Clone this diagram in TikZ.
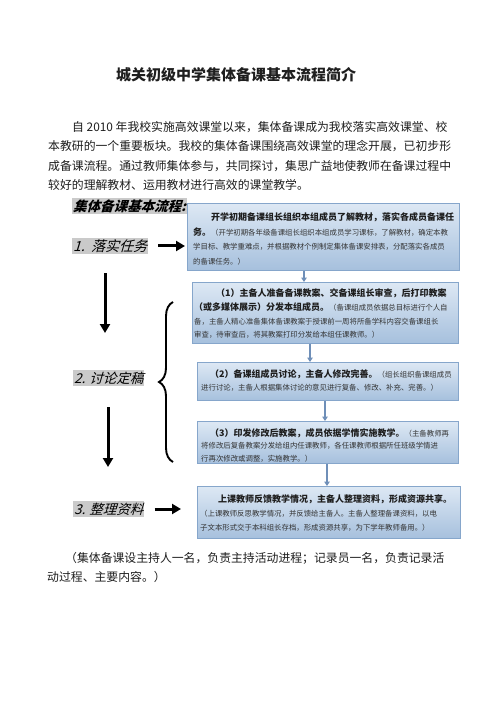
\documentclass[tikz,border=0pt]{standalone}
\usepackage{fontspec}
\setmainfont{Noto Sans CJK SC}
\newfontfamily\cjkit{Noto Sans CJK SC}[FakeSlant=0.3]
\usetikzlibrary{arrows.meta,decorations.pathreplacing}
\definecolor{boxtop}{HTML}{DDE8F4}
\definecolor{boxbot}{HTML}{A6C0DD}
\definecolor{boxline}{HTML}{86A6CB}
\definecolor{smallarr}{HTML}{6F8FB8}
\definecolor{hl}{HTML}{CACACA}
\definecolor{txt}{HTML}{1E1E1E}
\definecolor{txtsmall}{HTML}{333333}
\newcommand{\bt}[1]{{\fontsize{9}{9}\selectfont\bfseries #1}}
\newcommand{\st}[1]{{\fontsize{7.4}{7.4}\selectfont\color{txtsmall}#1}}
\tikzset{
  flowbox/.style={draw=boxline, line width=0.8pt, top color=boxtop, bottom color=boxbot, anchor=north west, inner sep=0pt},
  ln/.style={anchor=west, inner sep=0pt, text=txt},
  para/.style={anchor=west, inner sep=0pt, text=txt, font=\fontsize{11.85}{11.85}\selectfont},
  lab/.style={anchor=west, fill=hl, inner xsep=1pt, inner ysep=1.5pt, text=black, font=\cjkit\fontsize{13.5}{13.5}\selectfont},
  bigarrow/.style={line width=3pt, -{Triangle[width=10pt,length=9pt]}},
  smallarrow/.style={line width=1.3pt, draw=smallarr, -{Triangle[width=5.5pt,length=4.5pt]}},
}
\begin{document}
\begin{tikzpicture}[x=1pt,y=-1pt]
\useasboundingbox (0,0) rectangle (500,708);
\fill[white] (0,0) rectangle (500,708);
% title
\node[inner sep=0pt, text=txt, font=\fontsize{15}{15}\selectfont\bfseries] (title) at (236,75) {城关初级中学集体备课基本流程简介};
% intro paragraph
\node[para] (p1) at (72,127) {自 2010 年我校实施高效课堂以来，集体备课成为我校落实高效课堂、校};
\node[para] (p2) at (48,146) {本教研的一个重要板块。我校的集体备课围绕高效课堂的理念开展，已初步形};
\node[para] (p3) at (48,166) {成备课流程。通过教师集体参与，共同探讨，集思广益地使教师在备课过程中};
\node[para] (p4) at (48,185) {较好的理解教材、运用教材进行高效的课堂教学。};
% boxes
\node[flowbox, minimum width=272pt, minimum height=67pt] (b1) at (187,203) {};
\node[flowbox, minimum width=266pt, minimum height=61pt] (b2) at (192,282) {};
\node[flowbox, minimum width=261pt, minimum height=38pt] (b3) at (197,362) {};
\node[flowbox, minimum width=261pt, minimum height=42pt] (b4) at (197,421) {};
\node[flowbox, minimum width=263pt, minimum height=52pt] (b5) at (197,486) {};
% box texts
\node[ln] (t11) at (211,217) {\bt{开学初期备课组长组织本组成员了解教材，落实各成员备课任}};
\node[ln] (t12) at (193,232) {\bt{务。}\st{（开学初期各年级备课组长组织本组成员学习课标，了解教材，确定本教}};
\node[ln] (t13) at (193,247) {\st{学目标、教学重难点，并根据教材个例制定集体备课安排表，分配落实各成员}};
\node[ln] (t14) at (193,262) {\st{的备课任务。）}};
\node[ln] (t21) at (216,293) {\bt{（1）主备人准备备课教案、交备课组长审查，后打印教案}};
\node[ln] (t22) at (194,307) {\bt{（或多媒体展示）分发本组成员。}\st{（备课组成员依据总目标进行个人自}};
\node[ln] (t23) at (194,322) {\st{备，主备人精心准备集体备课教案于授课前一周将所备学科内容交备课组长}};
\node[ln] (t24) at (194,335) {\st{审查，待审查后，将其教案打印分发给本组任课教师。）}};
\node[ln] (t31) at (210,374) {\bt{（2）备课组成员讨论，主备人修改完善。}\st{（组长组织备课组成员}};
\node[ln] (t32) at (201,388) {\st{进行讨论，主备人根据集体讨论的意见进行复备、修改、补充、完善。）}};
\node[ln] (t41) at (210,433) {\bt{（3）印发修改后教案，成员依据学情实施教学。}\st{（主备教师再}};
\node[ln] (t42) at (201,446) {\st{将修改后复备教案分发给组内任课教师，各任课教师根据所任班级学情进}};
\node[ln] (t43) at (201,459) {\st{行再次修改或调整，实施教学。）}};
\node[ln] (t51) at (218,499) {\bt{上课教师反馈教学情况，主备人整理资料，形成资源共享。}};
\node[ln] (t52) at (200,514) {\st{（上课教师反思教学情况，并反馈给主备人。主备人整理备课资料，以电}};
\node[ln] (t53) at (200,528) {\st{子文本形式交于本科组长存档，形成资源共享，为下学年教师备用。）}};
% small arrows between boxes
\coordinate (x1) at (304,0);
\coordinate (x2) at (310,0);
\coordinate (x3) at (325,0);
\coordinate (x4) at (327,0);
\draw[smallarrow] (b1.south -| x1) -- (b2.north -| x1);
\draw[smallarrow] (b2.south -| x2) -- (b3.north -| x2);
\draw[smallarrow] (b3.south -| x3) -- (b4.north -| x3);
\draw[smallarrow] (b4.south -| x4) -- (b5.north -| x4);
% labels
\node[lab, font=\cjkit\fontsize{13.5}{13.5}\selectfont\bfseries] (lh) at (72,206) {集体备课基本流程:};
\node[lab, font=\cjkit\fontsize{14}{14}\selectfont] (l1) at (72,246) {1.\ \ 落实任务};
\node[lab] (l2) at (73,378) {2. 讨论定稿};
\node[lab] (l3) at (73,509) {3. 整理资料};
% big arrows
\draw[bigarrow, shorten <=10pt, shorten >=2pt] (l1.east) -- (b1.west |- l1.east);
\draw[bigarrow, shorten <=10pt, shorten >=16pt] (l3.east) -- (b5.west |- l3.east);
\coordinate (d1s) at (105,273);
\coordinate (d1e) at (105,333);
\coordinate (d2s) at (108,407);
\coordinate (d2e) at (108,467);
\draw[bigarrow] (d1s) -- (d1e);
\draw[bigarrow] (d2s) -- (d2e);
% brace
\coordinate (br1) at (173,462);
\coordinate (br2) at (173,302);
\draw[line width=1.9pt, decorate, decoration={brace, amplitude=14pt}] (br1) -- (br2);
% closing paragraph
\node[para] (q1) at (65,558) {（集体备课设主持人一名，负责主持活动进程；记录员一名，负责记录活};
\node[para] (q2) at (47,577) {动过程、主要内容。）};
\end{tikzpicture}
\end{document}
